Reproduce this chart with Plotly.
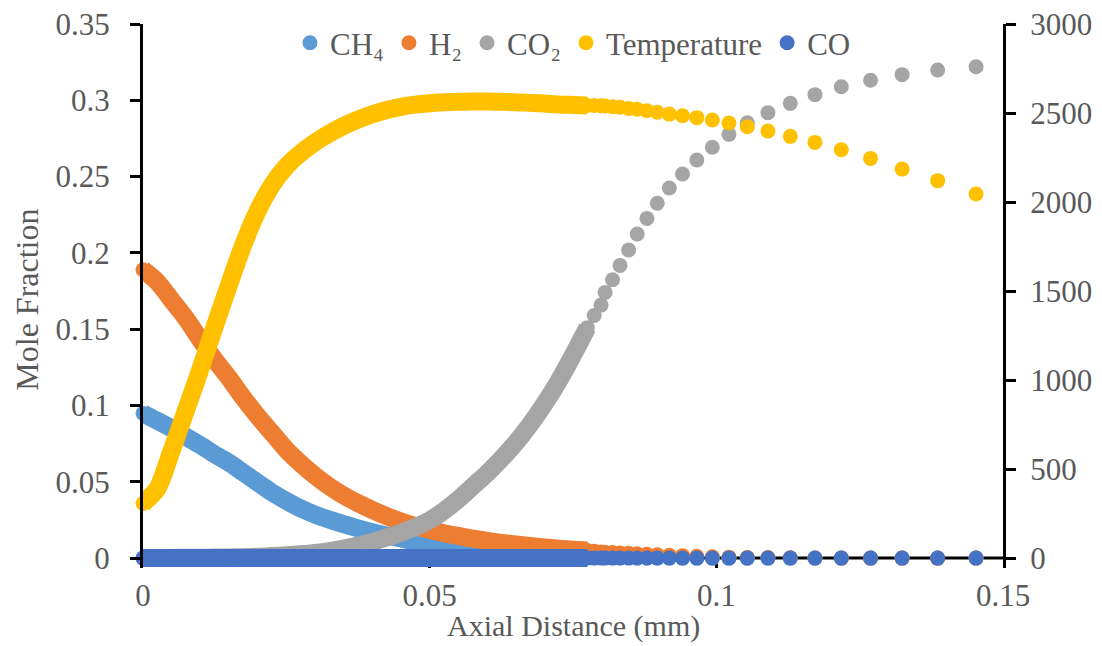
import plotly.graph_objects as go

# axial positions (mm): fine mesh near the inlet, coarse mesh downstream
x_dense = [0.0, 0.0025, 0.005, 0.0075, 0.01, 0.0125, 0.015, 0.0175, 0.02, 0.0225,
           0.025, 0.0275, 0.03, 0.0325, 0.035, 0.0375, 0.04, 0.0425, 0.045, 0.0475,
           0.05, 0.0525, 0.055, 0.0575, 0.06, 0.0625, 0.065, 0.0675, 0.07, 0.0725,
           0.075, 0.0775]
x_sparse = [0.0787, 0.0799, 0.0806, 0.0819, 0.0832, 0.0847, 0.0862, 0.0879, 0.0897, 0.0918,
            0.0941, 0.0966, 0.0993, 0.1022, 0.1054, 0.1090, 0.1129, 0.1172, 0.1218,
            0.1269, 0.1324, 0.1386, 0.1453]

ch4_dense = [0.0948, 0.0900, 0.0850, 0.0795, 0.0740, 0.0680, 0.0625, 0.0560, 0.0495, 0.0430,
             0.0375, 0.0325, 0.0285, 0.0252, 0.0222, 0.0195, 0.0170, 0.0148, 0.0128, 0.0108,
             0.0090, 0.0074, 0.0060, 0.0048, 0.0038, 0.0029, 0.0022, 0.0016, 0.0012, 0.0009,
             0.0006, 0.0004]
ch4_sparse = [0.0003, 0.0003, 0.0003, 0.0002, 0.0002, 0.0002, 0.0001, 0.0001, 0.0001, 0.0001,
              0.0, 0.0, 0.0, 0.0, 0.0, 0.0, 0.0, 0.0, 0.0, 0.0, 0.0, 0.0, 0.0]

h2_dense = [0.189, 0.181, 0.169, 0.157, 0.143, 0.130, 0.118, 0.105, 0.093, 0.082,
            0.071, 0.062, 0.054, 0.047, 0.041, 0.036, 0.0315, 0.0275, 0.024, 0.021,
            0.0185, 0.0163, 0.0145, 0.0128, 0.0113, 0.0100, 0.0089, 0.0079, 0.0070, 0.0062,
            0.0055, 0.0049]
h2_sparse = [0.0044, 0.0040, 0.0038, 0.0036, 0.0034, 0.0031, 0.0028, 0.0025, 0.0022, 0.0019,
             0.0016, 0.0012, 0.0009, 0.0006, 0.0004, 0.0003, 0.0002, 0.0001, 0.0, 0.0, 0.0,
             0.0, 0.0]

co2_dense = [0.0, 0.0001, 0.0001, 0.0002, 0.0002, 0.0003, 0.0004, 0.0006, 0.0009, 0.0013,
             0.0018, 0.0025, 0.0034, 0.0046, 0.0062, 0.0082, 0.0106, 0.0135, 0.0166, 0.0203,
             0.0248, 0.0310, 0.0385, 0.0470, 0.0555, 0.0650, 0.0755, 0.0875, 0.1010, 0.1160,
             0.1330, 0.1510]
co2_sparse = [0.1590, 0.1658, 0.1741, 0.1824, 0.1918, 0.2019, 0.2124, 0.2226, 0.2325, 0.2425,
              0.2517, 0.2609, 0.2692, 0.2777, 0.2853, 0.2919, 0.2980, 0.3037, 0.3089, 0.3131,
              0.3168, 0.3199, 0.3220]

temp_dense = [307, 390, 605, 830, 1060, 1300, 1535, 1760, 1950, 2095,
              2200, 2275, 2335, 2385, 2428, 2463, 2493, 2517, 2535, 2547,
              2555, 2560, 2563, 2564, 2564, 2563, 2561, 2557, 2553, 2548,
              2545, 2542]
temp_sparse = [2542, 2541, 2539, 2535, 2532, 2526, 2521, 2513, 2504, 2494, 2485, 2474,
               2461, 2444, 2423, 2399, 2369, 2335, 2294, 2245, 2185, 2120, 2045]

co_dense = [0.0, 0.0, 0.0, 0.0, 0.0, 0.0, 0.0, 0.0, 0.0, 0.0, 0.0, 0.0, 0.0, 0.0, 0.0, 0.0,
            0.0, 0.0, 0.0, 0.0, 0.0, 0.0, 0.0, 0.0, 0.0, 0.0, 0.0, 0.0, 0.0, 0.0, 0.0, 0.0]
co_sparse = [0.0, 0.0, 0.0, 0.0, 0.0, 0.0, 0.0, 0.0, 0.0, 0.0, 0.0, 0.0,
             0.0, 0.0, 0.0, 0.0, 0.0, 0.0, 0.0, 0.0, 0.0, 0.0, 0.0]

FONT = "Liberation Serif, Times New Roman, serif"
TEXT = "#595959"
FS = 31
MSIZE = 15
LWIDTH = 18
Y_MAX, T_MAX = 0.35, 3000
PAD = 0.0065  # room below zero so the bottom row of markers is not clipped

series = [
    ("CH₄", ch4_dense, ch4_sparse, "#5B9BD5", "y"),
    ("H₂", h2_dense, h2_sparse, "#ED7D31", "y"),
    ("CO₂", co2_dense, co2_sparse, "#A5A5A5", "y"),
    ("Temperature", temp_dense, temp_sparse, "#FFC000", "y2"),
    ("CO", co_dense, co_sparse, "#4472C4", "y"),
]

fig = go.Figure()
for name, dense, sparse, color, yax in series:
    # the fine mesh is so dense that the markers merge into a thick band
    fig.add_trace(go.Scatter(
        x=x_dense, y=dense, mode="lines", yaxis=yax,
        line=dict(color=color, width=LWIDTH, shape="spline", smoothing=0.8),
        showlegend=False, hoverinfo="skip", legendgroup=name, cliponaxis=False,
    ))
    fig.add_trace(go.Scatter(
        x=x_dense + x_sparse, y=dense + sparse, mode="markers", name=name, yaxis=yax,
        marker=dict(color=color, size=MSIZE), legendgroup=name, cliponaxis=False,
    ))

tickfont = dict(family=FONT, size=FS, color=TEXT)
yaxis_common = dict(
    showgrid=False, zeroline=False, showline=True, linecolor="black", linewidth=3,
    ticks="outside", ticklen=10, tickwidth=3, tickcolor="black", tickfont=tickfont,
)

fig.update_layout(
    width=1102, height=646,
    plot_bgcolor="white", paper_bgcolor="white",
    margin=dict(l=143, r=99, t=24, b=78, autoexpand=False),
    font=dict(family=FONT, size=FS, color=TEXT),
    xaxis=dict(range=[0, 0.15], dtick=0.05, tick0=0, showgrid=False, zeroline=False,
               showline=False, ticks="inside", ticklen=10, tickwidth=3, tickcolor="black",
               tickfont=tickfont, ticklabelstandoff=6, layer="below traces"),
    yaxis=dict(range=[-PAD, Y_MAX], dtick=0.05, tick0=0, ticklabelstandoff=14,
               **yaxis_common),
    yaxis2=dict(range=[-PAD / Y_MAX * T_MAX, T_MAX], dtick=500, tick0=0,
                overlaying="y", side="right", ticklabelstandoff=8, **yaxis_common),
    legend=dict(orientation="h", x=0.5, xanchor="center", y=0.965, yanchor="middle",
                bgcolor="rgba(0,0,0,0)", font=dict(family=FONT, size=FS, color=TEXT),
                itemwidth=30, tracegroupgap=0),
    showlegend=True,
    shapes=[dict(type="line", xref="x", yref="y", x0=0, x1=0.15, y0=0, y1=0,
                 line=dict(color="black", width=3), layer="below")],
    annotations=[
        dict(text="Axial Distance (mm)", xref="paper", yref="paper", x=0.5, y=-0.107,
             xanchor="center", yanchor="middle", showarrow=False,
             font=dict(family=FONT, size=30, color=TEXT)),
        dict(text="Mole Fraction", xref="paper", yref="paper", x=-0.135, y=0.493,
             xanchor="center", yanchor="middle", textangle=-90, showarrow=False,
             font=dict(family=FONT, size=32, color=TEXT)),
    ],
)

# the page's default body margin would shift the figure by 8 px
fig.write_html("out.html", config={"displayModeBar": False},
               post_script="document.body.style.margin = '0px';")
